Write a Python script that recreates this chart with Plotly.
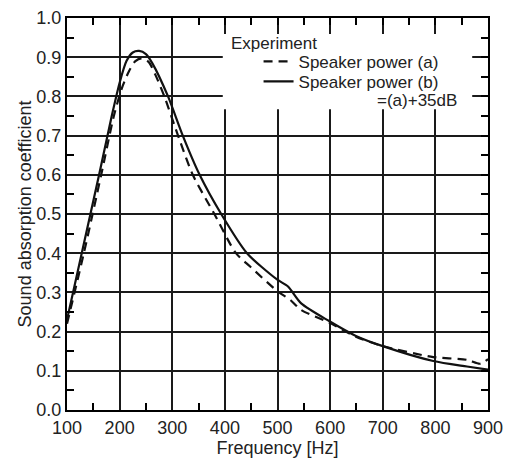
import plotly.graph_objects as go

# Data
freq_a = [100, 132, 165, 189, 204, 218, 230, 242, 255, 268, 285, 311, 339, 380, 421, 448,
          499, 525, 545, 598, 649, 700, 796, 860, 885, 900]
alpha_a = [0.22, 0.40, 0.60, 0.75, 0.82, 0.865, 0.89, 0.897, 0.888, 0.855, 0.80, 0.70, 0.60,
           0.50, 0.40, 0.366, 0.304, 0.28, 0.255, 0.223, 0.187, 0.163, 0.135, 0.128, 0.118, 0.13]

freq_b = [100, 128, 161, 185, 200, 213, 225, 237, 250, 262, 292, 320, 352, 393, 442,
          499, 520, 545, 598, 649, 700, 796, 860, 900]
alpha_b = [0.23, 0.40, 0.60, 0.75, 0.835, 0.89, 0.912, 0.916, 0.908, 0.885, 0.80, 0.70, 0.60,
           0.50, 0.40, 0.333, 0.315, 0.272, 0.227, 0.189, 0.163, 0.125, 0.111, 0.103]

name_a = "Speaker power (a)"
name_b = "Speaker power (b)"
legend_title = "Experiment"
note_b = "=(a)+35dB"
x_title = "Frequency [Hz]"
y_title = "Sound absorption coefficient"

FONT = "Liberation Sans, Arial, sans-serif"
FS = 18
FSL = 17
TXT = "#222222"
LINE = "#111111"

fig = go.Figure()
fig.add_trace(go.Scatter(x=freq_a, y=alpha_a, mode="lines", name=name_a, legend="legend",
                         line=dict(color=LINE, width=2.2, dash="9px,6px", shape="spline", smoothing=0.7)))
fig.add_trace(go.Scatter(x=freq_b, y=alpha_b, mode="lines", name=name_b, legend="legend2",
                         line=dict(color=LINE, width=2.2, shape="spline", smoothing=0.7)))
# empty helper traces so the tick-only overlay axes get drawn
fig.add_trace(go.Scatter(x=[None], y=[None], xaxis="x2", yaxis="y", showlegend=False, hoverinfo="skip"))
fig.add_trace(go.Scatter(x=[None], y=[None], xaxis="x", yaxis="y2", showlegend=False, hoverinfo="skip"))

# white mask behind legend (covers grid lines, drawn between grid and traces)
fig.add_shape(type="rect", xref="x", yref="y", x0=396, x1=870, y0=0.767, y1=0.959,
              fillcolor="white", line=dict(width=0), layer="between")

fig.add_annotation(text=legend_title, xref="paper", yref="paper", x=0.385, y=0.934,
                   xanchor="left", yanchor="middle", showarrow=False,
                   font=dict(family=FONT, size=FSL, color=TXT))
fig.add_annotation(text=note_b, xref="paper", yref="paper", x=0.93, y=0.789,
                   xanchor="right", yanchor="middle", showarrow=False,
                   font=dict(family=FONT, size=FSL, color=TXT))

axis_common = dict(showline=True, linecolor="black", linewidth=2, mirror=True,
                   showgrid=True, gridcolor="#1a1a1a", gridwidth=1.6, zeroline=False,
                   ticks="", tickfont=dict(family=FONT, size=FS, color=TXT))

fig.update_xaxes(range=[100, 900], dtick=100, tick0=100,
                 minor=dict(dtick=50, ticks="inside", ticklen=7, tickcolor="black", tickwidth=1.5, showgrid=False),
                 title=dict(text=x_title, font=dict(family=FONT, size=FS, color=TXT), standoff=0),
                 selector=dict(overlaying=None), **axis_common)
fig.update_layout(yaxis=dict(range=[0, 1], dtick=0.1, tick0=0, tickformat=".1f",
                             minor=dict(dtick=0.05, ticks="inside", ticklen=7, tickcolor="black", tickwidth=1.5, showgrid=False),
                             title=dict(text=y_title, font=dict(family=FONT, size=FS, color=TXT), standoff=0),
                             **axis_common))

leg_common = dict(xanchor="left", yanchor="middle", bgcolor="rgba(0,0,0,0)",
                  font=dict(family=FONT, size=FSL, color=TXT), itemwidth=30, borderwidth=0)

# overlay axes only for the small ticks on the top and right sides
minor_x = dict(overlaying="x", matches="x", side="top", anchor="y", tick0=100, dtick=50,
               ticks="inside", ticklen=7, tickcolor="black", tickwidth=1.5,
               showticklabels=False, showgrid=False, zeroline=False, showline=False)
minor_y = dict(overlaying="y", matches="y", side="right", anchor="x", tick0=0, dtick=0.05,
               ticks="inside", ticklen=7, tickcolor="black", tickwidth=1.5,
               showticklabels=False, showgrid=False, zeroline=False, showline=False)

fig.update_layout(
    width=507, height=460,
    margin=dict(l=67, r=19, t=18, b=50, autoexpand=False),
    paper_bgcolor="white", plot_bgcolor="white",
    font=dict(family=FONT, size=FS, color=TXT),
    showlegend=True,
    legend=dict(x=0.455, y=0.888, **leg_common),
    legend2=dict(x=0.455, y=0.837, **leg_common),
    xaxis2=minor_x,
    yaxis2=minor_y,
)
fig.update_layout(xaxis=dict(range=[100, 900]))

fig.write_html("out.html")
